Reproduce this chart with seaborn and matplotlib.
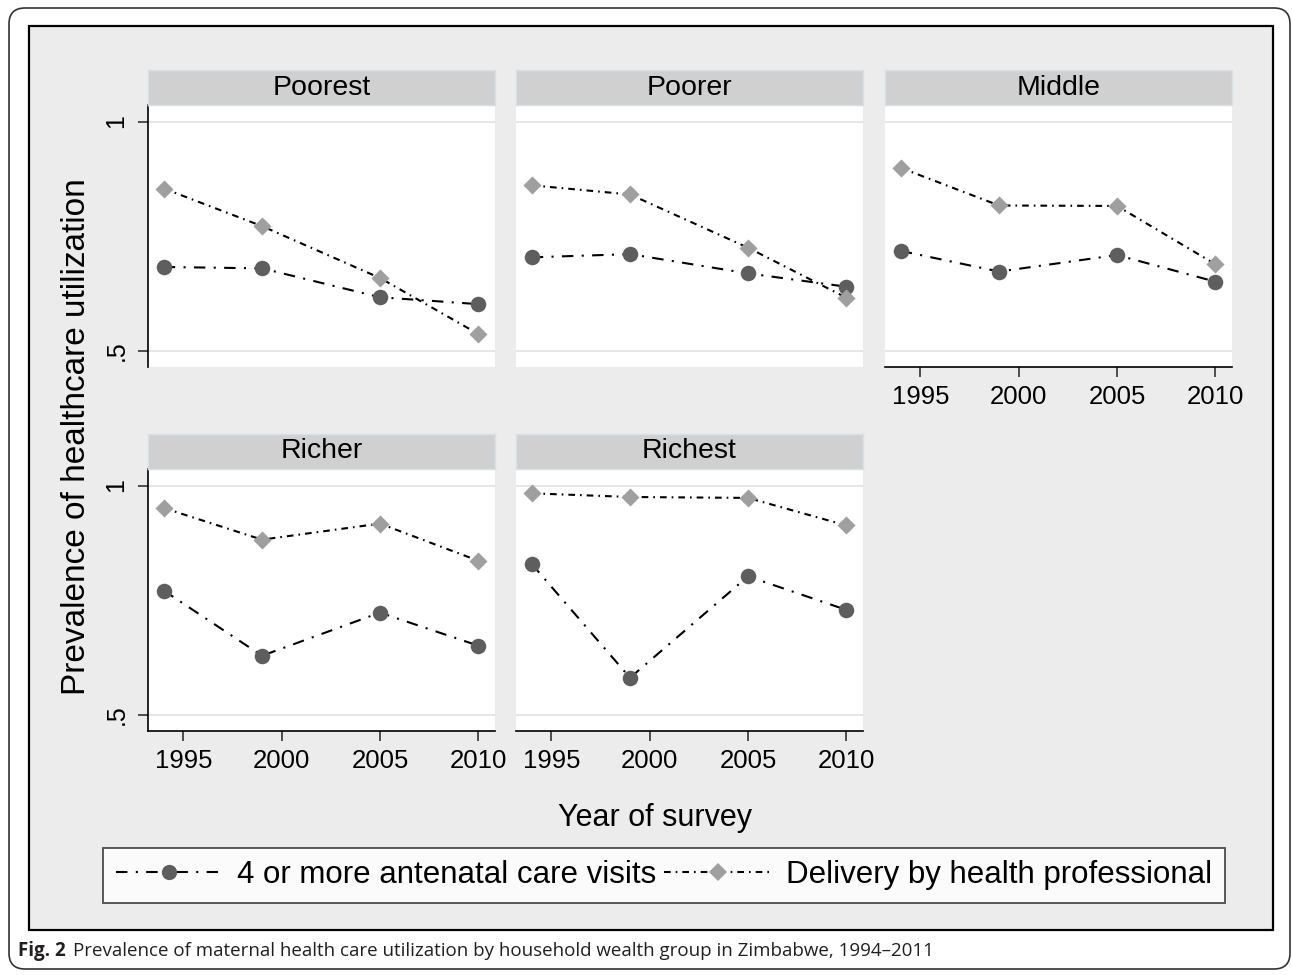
import pandas as pd
import matplotlib
matplotlib.use('Agg')
import matplotlib.pyplot as plt
import seaborn as sns
from matplotlib.lines import Line2D
from matplotlib.patches import FancyBboxPatch, Rectangle

# data
groups = ['Poorest', 'Poorer', 'Middle', 'Richer', 'Richest']
years = [1994, 1999, 2005, 2010]
anc4 = {
    'Poorest': [0.683, 0.680, 0.617, 0.602],
    'Poorer': [0.704, 0.711, 0.669, 0.640],
    'Middle': [0.718, 0.673, 0.709, 0.651],
    'Richer': [0.771, 0.629, 0.723, 0.651],
    'Richest': [0.829, 0.581, 0.802, 0.729],
}
delivery = {
    'Poorest': [0.854, 0.772, 0.659, 0.537],
    'Poorer': [0.861, 0.841, 0.725, 0.616],
    'Middle': [0.899, 0.817, 0.816, 0.689],
    'Richer': [0.951, 0.882, 0.917, 0.836],
    'Richest': [0.983, 0.975, 0.973, 0.913],
}
measures = ['4 or more antenatal care visits', 'Delivery by health professional']
xticks = [1995, 2000, 2005, 2010]

rows = []
for g in groups:
    for y, a, d in zip(years, anc4[g], delivery[g]):
        rows.append({'group': g, 'year': y, 'measure': measures[0], 'value': a})
        rows.append({'group': g, 'year': y, 'measure': measures[1], 'value': d})
df = pd.DataFrame(rows)

sns.set_style('white')
plt.rcParams['font.family'] = ['Liberation Sans', 'DejaVu Sans']
plt.rcParams['text.color'] = 'black'
plt.rcParams['xtick.color'] = 'black'
plt.rcParams['ytick.color'] = 'black'
plt.rcParams['axes.labelcolor'] = 'black'

W, H = 1292, 975
fig = plt.figure(figsize=(W / 100, H / 100), dpi=100)
fig.patch.set_facecolor('white')


def px(x, y):
    return x / 100, (H - y) / 100


# outer rounded border and inner grey frame
fig.patches.append(FancyBboxPatch(px(9, 969), (1290 - 9) / 100, (969 - 8) / 100,
                                  boxstyle='round,pad=0,rounding_size=0.16',
                                  transform=fig.dpi_scale_trans, facecolor='white',
                                  edgecolor='#333333', linewidth=1.2, zorder=-5))
fig.patches.append(Rectangle(px(29, 930), (1273 - 29) / 100, (930 - 26) / 100,
                             transform=fig.dpi_scale_trans, facecolor='#ececec',
                             edgecolor='black', linewidth=1.6, zorder=-4))

styles = {
    measures[0]: dict(ls=(0, (5.5, 4, 1, 4)), marker='o', s=125, ms=11, mc='#5e5e5e', z=3),
    measures[1]: dict(ls=(0, (3.2, 2.4, 0.8, 2.4)), marker='D', s=85, ms=9, mc='#9f9f9f', z=5),
}

col_x = [148, 516, 885]
pw = 347
row_y = [105, 469]
ph = 262
strip_h = 35

for i, g in enumerate(groups):
    r, c = divmod(i, 3)
    x0, y0 = col_x[c], row_y[r]
    ax = fig.add_axes([x0 / W, 1 - (y0 + ph) / H, pw / W, ph / H])
    ax.set_facecolor('white')
    sub = df[df['group'] == g]
    for m in measures:
        st = styles[m]
        d = sub[sub['measure'] == m]
        sns.lineplot(data=d, x='year', y='value', color='black', linewidth=1.5,
                     linestyle=st['ls'], errorbar=None, legend=False, ax=ax, zorder=st['z'])
        sns.scatterplot(data=d, x='year', y='value', marker=st['marker'], s=st['s'],
                        color=st['mc'], linewidth=0, legend=False, ax=ax, zorder=st['z'] + 1)
    ax.set_xlim(1993.2, 2010.85)
    ax.set_ylim(0.465, 1.036)
    ax.set_xlabel('')
    ax.set_ylabel('')
    ax.set_yticks([0.5, 1])
    ax.set_xticks(xticks)
    ax.grid(axis='y', color='#e4e4e4', linewidth=1.3)
    ax.grid(axis='x', visible=False)
    for s in ['top', 'right', 'left', 'bottom']:
        ax.spines[s].set_visible(False)

    left = c == 0
    bottom = (r == 1) or (c == 2)
    if left:
        ax.spines['left'].set_visible(True)
        ax.spines['left'].set_color('black')
        ax.spines['left'].set_linewidth(1.2)
        ax.set_yticklabels(['.5', '1'], rotation=90, va='center')
        ax.tick_params(axis='y', length=7, width=1.2, color='#333333',
                       labelsize=18, pad=7, left=True)
    else:
        ax.tick_params(axis='y', left=False, labelleft=False)
    if bottom:
        ax.spines['bottom'].set_visible(True)
        ax.spines['bottom'].set_color('black')
        ax.spines['bottom'].set_linewidth(1.2)
        ax.set_xticklabels([str(t) for t in xticks])
        ax.tick_params(axis='x', length=7, width=1.2, color='#333333',
                       labelsize=18.5, pad=6, bottom=True)
    else:
        ax.tick_params(axis='x', bottom=False, labelbottom=False)

    # strip title
    sax = fig.add_axes([x0 / W, 1 - y0 / H, pw / W, strip_h / H])
    sax.set_facecolor('#d0d0d0')
    sax.set_xticks([])
    sax.set_yticks([])
    for s in sax.spines.values():
        s.set_color('#d6e2ea')
        s.set_linewidth(1)
    sax.text(0.5, 0.5, g, ha='center', va='center', fontsize=20.5,
             transform=sax.transAxes)

fig.text(77 / W, 1 - 437 / H, 'Prevalence of healthcare utilization',
         rotation=90, ha='center', va='center', fontsize=24)
fig.text(655 / W, 1 - 818 / H, 'Year of survey', ha='center', va='center', fontsize=22)

handles = [
    Line2D([], [], color='black', linewidth=1.5, linestyle=styles[m]['ls'],
           marker=styles[m]['marker'], markersize=styles[m]['ms'],
           markerfacecolor=styles[m]['mc'], markeredgewidth=0)
    for m in measures
]
leg = fig.legend(handles, measures, loc='center', bbox_to_anchor=(664 / W, 1 - 875 / H),
                 ncol=2, fontsize=22.5, frameon=True, fancybox=False, handlelength=3.4,
                 handletextpad=0.5, columnspacing=0.25, borderpad=0.4, numpoints=1)
leg.get_frame().set_edgecolor('#222222')
leg.get_frame().set_linewidth(1.3)
leg.get_frame().set_facecolor('white')

# caption
t1 = fig.text(18 / W, 1 - 951 / H, 'Fig. 2', ha='left', va='center', fontsize=13.5,
              fontweight='bold', family=['Open Sans', 'DejaVu Sans'], color='#231f20')
fig.canvas.draw()
bb = t1.get_window_extent()
fig.text((bb.x1 + 7) / W, 1 - 951 / H,
         'Prevalence of maternal health care utilization by household wealth group in Zimbabwe, 1994\u20132011',
         ha='left', va='center', fontsize=13.5, family=['Open Sans', 'DejaVu Sans'],
         color='#231f20')

fig.savefig('out.png', dpi=100)
